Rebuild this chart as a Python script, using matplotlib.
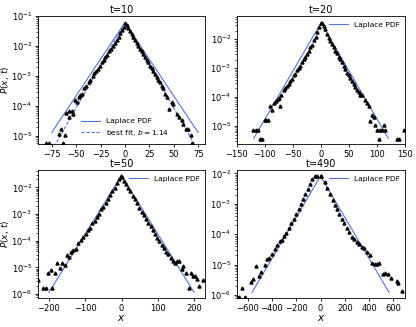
import numpy as np
import matplotlib
matplotlib.use("Agg")
import matplotlib.pyplot as plt

# ---------------- data (x, log10 P) ----------------
t10_x = [-80.8, -77.4, -67.2, -65.5, -63.7, -61.0, -60.3, -57.6, -57.0, -54.2, -52.9,
         -50.8, -49.4, -47.4, -46.0, -44.0, -41.6, -39.9, -37.1, -35.5, -33.0, -31.4,
         -29.7, -28.0, -25.6, -23.8, -21.8, -20.1, -18.4, -16.0, -14.0, -12.0, -9.9,
         -8.2, -6.4, -4.8, -3.1, -1.3, 0.2, 1.7, 3.4, 5.1, 6.8, 8.5, 10.2, 11.9, 13.6,
         15.3, 17.0, 18.8, 20.4, 22.2, 23.9, 25.6, 27.3, 29.0, 30.7, 32.4, 34.1, 35.8,
         37.5, 39.2, 40.9, 42.6, 45.3, 47.8, 49.4, 52.9, 55.5, 58.0, 59.6, 62.4, 64.7,
         67.2, 69.2]
t10_logp = [-5.24, -5.24, -4.93, -4.77, -5.24, -4.96, -4.24, -4.36, -4.16, -4.18, -4.27,
            -3.80, -3.88, -3.71, -3.63, -3.60, -3.40, -3.32, -3.19, -3.12, -2.99, -2.91,
            -2.82, -2.77, -2.66, -2.54, -2.47, -2.38, -2.29, -2.18, -2.09, -1.99, -1.89,
            -1.80, -1.69, -1.58, -1.47, -1.36, -1.25, -1.30, -1.40, -1.50, -1.60, -1.69,
            -1.80, -1.91, -1.99, -2.10, -2.18, -2.27, -2.36, -2.47, -2.54, -2.66, -2.73,
            -2.82, -2.93, -3.02, -3.13, -3.21, -3.32, -3.40, -3.60, -3.69, -4.10, -3.88,
            -3.93, -4.27, -4.38, -4.47, -4.60, -4.77, -4.77, -4.96, -5.24]

t20_x = [-122.0, -116.0, -112.5, -108.4, -105.4, -100.7, -97.7, -94.6, -91.8, -87.5,
         -83.4, -80.4, -77.5, -75.5, -72.4, -70.9, -66.8, -63.8, -60.8, -57.8, -54.8,
         -51.8, -48.8, -45.8, -42.8, -39.8, -36.8, -33.8, -30.8, -27.8, -24.8, -21.8,
         -18.8, -15.8, -12.8, -9.8, -6.8, -3.8, -0.8, 1.8, 4.8, 7.7, 10.7, 13.6, 16.6,
         19.6, 22.6, 25.5, 28.6, 31.4, 34.5, 37.5, 40.4, 43.4, 46.4, 49.3, 52.3, 55.4,
         58.2, 61.3, 64.3, 67.1, 70.2, 73.2, 79.1, 82.1, 85.0, 88.0, 91.0, 93.9, 97.0,
         100.0, 102.9, 105.9, 108.9, 111.8, 114.8, 135.7, 138.6, 149.0]
t20_logp = [-5.15, -5.15, -5.15, -5.44, -5.44, -4.78, -4.78, -4.78, -4.29, -4.46,
            -4.21, -4.14, -4.06, -4.02, -4.32, -3.91, -3.77, -3.68, -3.60, -3.54, -3.43,
            -3.39, -3.22, -3.20, -3.06, -2.99, -2.91, -2.79, -2.68, -2.62, -2.51, -2.41,
            -2.28, -2.19, -2.02, -1.93, -1.76, -1.59, -1.45, -1.45, -1.55, -1.64, -1.82,
            -1.96, -2.05, -2.16, -2.28, -2.39, -2.48, -2.60, -2.68, -2.79, -2.91, -3.02,
            -3.17, -3.25, -3.33, -3.43, -3.54, -3.66, -3.75, -3.83, -3.91, -3.94, -4.09,
            -4.21, -4.29, -4.83, -4.63, -4.69, -4.98, -5.15, -5.44, -5.15, -5.15, -4.98,
            -5.15, -5.44, -5.44, -5.15]

t50_x = [-229.0, -216.6, -207.0, -201.7, -195.3, -190.6, -183.4, -176.8, -170.4, -164.9,
         -155.8, -151.1, -144.7, -140.0, -133.7, -126.2, -118.8, -112.4, -106.0, -98.6,
         -92.3, -86.7, -80.1, -73.8, -68.2, -61.9, -56.4, -49.7, -43.4, -37.0, -31.5,
         -24.9, -18.5, -13.0, -6.6, -1.9, 1.5, 6.4, 11.9, 18.4, 22.9, 30.4, 36.7, 43.1,
         48.6, 55.2, 61.6, 67.1, 73.5, 80.1, 85.6, 92.0, 98.3, 103.9, 110.5, 116.9, 122.4,
         128.7, 135.4, 140.9, 146.4, 151.9, 158.3, 165.7, 170.2, 176.8, 185.9, 190.6,
         197.8, 202.5, 208.8, 214.3, 225.4]
t50_logp = [-5.47, -5.78, -5.78, -5.20, -5.10, -5.78, -5.20, -4.85, -5.01, -4.82,
            -4.90, -4.55, -4.60, -4.42, -4.35, -4.32, -4.10, -3.97, -3.85, -3.76,
            -3.60, -3.51, -3.35, -3.26, -3.10, -3.01, -2.82, -2.73, -2.58, -2.45, -2.30,
            -2.14, -2.01, -1.85, -1.68, -1.58, -1.60, -1.76, -1.89, -2.01, -2.14, -2.33,
            -2.45, -2.60, -2.76, -2.91, -3.05, -3.20, -3.32, -3.45, -3.60, -3.76, -3.89,
            -4.01, -4.16, -4.26, -4.42, -4.51, -4.64, -4.76, -4.82, -4.76, -4.76, -5.07,
            -4.95, -5.20, -5.76, -5.20, -5.32, -5.32, -5.45, -5.70, -5.47]

t490_x = [-685.0, -668.0, -647.0, -625.0, -575.6, -556.0, -528.5, -509.5, -487.0, -460.0,
          -441.0, -424.0, -399.7, -377.0, -355.0, -336.0, -317.0, -300.0, -281.0, -262.0,
          -240.0, -220.0, -198.0, -179.0, -163.0, -143.6, -124.0, -107.0, -88.0, -69.0,
          -47.0, -25.0, 2.5, 8.0, 35.5, 54.5, 76.8, 99.0, 118.0, 137.0, 153.6, 173.0,
          192.0, 214.7, 236.0, 256.0, 277.5, 297.0, 319.0, 338.6, 360.0, 382.0, 404.6,
          421.0, 448.0, 467.0, 484.0, 512.0, 531.0, 558.0, 578.0, 627.6, 641.0, 669.0]
t490_logp = [-6.06, -6.06, -5.76, -6.06, -5.58, -5.49, -5.05, -5.38, -5.25, -5.03,
             -4.81, -4.78, -4.66, -4.50, -4.37, -4.23, -4.19, -4.06, -3.95, -3.79,
             -3.64, -3.49, -3.35, -3.18, -3.02, -2.86, -2.69, -2.53, -2.36, -2.20,
             -2.09, -2.09, -2.09, -2.09, -2.29, -2.47, -2.69, -2.88, -3.05, -3.18, -3.35,
             -3.49, -3.64, -3.79, -3.93, -4.09, -4.15, -4.26, -4.34, -4.41, -4.45, -4.59,
             -4.70, -4.94, -4.99, -4.99, -4.96, -5.32, -5.27, -5.32, -5.43, -5.54, -5.62,
             -5.87]

# Laplace PDF lines (straight on log axis): x and log10 P at ends/peak
lap10_x, lap10_logp = [-75, 0, 75], [-4.89, -1.22, -4.89]
fit10_x, fit10_logp = [-75, 0, 75], [-5.50, -1.22, -5.50]
lap20_x, lap20_logp = [-120, 0, 120], [-5.42, -1.43, -5.42]
lap50_x, lap50_logp = [-200, 0, 200], [-5.94, -1.56, -5.94]
lap490_x, lap490_logp = [-565, 0, 565], [-5.92, -2.09, -5.92]

titles = ["t=10", "t=20", "t=50", "t=490"]
fit_label = "best fit, $b = 1.14$"

# ---------------- figure ----------------
W, H = 416, 327
fig = plt.figure(figsize=(W / 100, H / 100), dpi=100)

def box(l, r, t, b):
    return [l / W, 1 - b / H, (r - l) / W, (b - t) / H]

axes = [fig.add_axes(box(38, 205, 16, 144)),
        fig.add_axes(box(237, 405, 16, 144)),
        fig.add_axes(box(38, 205, 170, 298)),
        fig.add_axes(box(237, 405, 170, 298))]

blue = "#4f74e6"
data = [(t10_x, t10_logp, lap10_x, lap10_logp),
        (t20_x, t20_logp, lap20_x, lap20_logp),
        (t50_x, t50_logp, lap50_x, lap50_logp),
        (t490_x, t490_logp, lap490_x, lap490_logp)]
xlims = [(-89, 82), (-150, 150), (-230, 230), (-688, 696)]
ylims = [(10**-5.27, 10**-1.0), (10**-5.62, 10**-1.195),
         (10**-6.15, 10**-1.35), (10**-6.1, 10**-1.89)]
xticks = [[-75, -50, -25, 0, 25, 50, 75], [-150, -100, -50, 0, 50, 100, 150],
          [-200, -100, 0, 100, 200], [-600, -400, -200, 0, 200, 400, 600]]

fs = 6.0
for i, (ax, (dx, dl, lx, ll)) in enumerate(zip(axes, data)):
    ax.set_yscale("log")
    ax.plot(dx, 10.0 ** np.array(dl), linestyle="none", marker="^",
            color="black", markersize=2.2, zorder=3)
    ax.plot(lx, 10.0 ** np.array(ll), color=blue, lw=0.8, label="Laplace PDF", zorder=2)
    if i == 0:
        ax.plot(fit10_x, 10.0 ** np.array(fit10_logp), color=blue, lw=0.8,
                ls=(0, (3, 1.5)), label=fit_label, zorder=2)
        ax.legend(loc="lower center", frameon=False, fontsize=5.4,
                  handlelength=2.5, borderaxespad=0.4, bbox_to_anchor=(0.52, 0.0))
    else:
        ax.legend(loc="upper right", frameon=False, fontsize=5.4,
                  handlelength=2.5, borderaxespad=0.3)
    ax.set_xlim(*xlims[i])
    ax.set_ylim(*ylims[i])
    ax.set_xticks(xticks[i])
    ax.set_title(titles[i], fontsize=7, pad=2.5)
    ax.tick_params(labelsize=fs, length=2.5, width=0.6, pad=1.5)
    ax.tick_params(which="minor", length=1.5, width=0.5)
    for s in ax.spines.values():
        s.set_linewidth(0.6)
    if i in (0, 2):
        ax.set_ylabel("$P(x,\\, t)$", fontsize=6.4)
        ax.yaxis.set_label_coords(-0.16, 0.5)
    if i in (2, 3):
        ax.set_xlabel("$x$", fontsize=7.5, labelpad=0.5)

fig.savefig("out.png", dpi=100)
